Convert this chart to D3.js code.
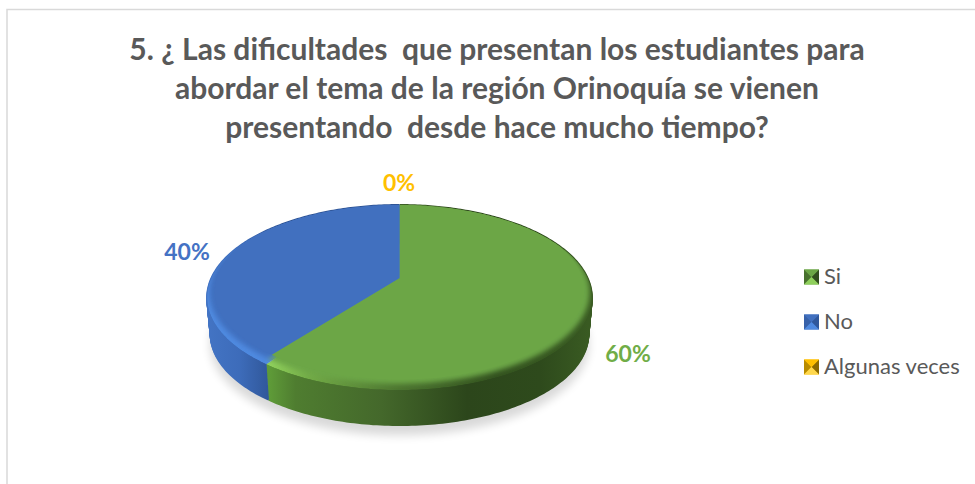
<!DOCTYPE html>
<html>
<head>
<meta charset="utf-8">
<script src="https://cdn.jsdelivr.net/npm/d3@7"></script>
<style>
html, body { margin: 0; padding: 0; background: #fff; }
text { font-family: Lato, "Open Sans", sans-serif; }
</style>
</head>
<body>
<svg id="chart" width="975" height="484"></svg>
<script>
const categories = ["Si", "No", "Algunas veces"];
const values = [60, 40, 0];
const percentLabels = ["60%", "40%", "0%"];
const titleLines = [
    "5. ¿ Las dificultades  que presentan los estudiantes para",
    "abordar el tema de la región Orinoquía se vienen",
    "presentando  desde hace mucho tiempo?"
];

const topColors = ["#6ca646", "#4170bf", "#ffc000"];
const labelColors = ["#70ad47", "#4472c4", "#ffc000"];
const lightColors = ["#8fd05c", "#4f8ae0", "#ffd84d"];
const darkColors = ["#2c451b", "#2f5597", "#7f6000"];

const svg = d3.select("#chart");
const defs = svg.append("defs");

// frame
svg.append("path")
    .attr("d", "M7,484V9.5H975")
    .attr("fill", "none")
    .attr("stroke", "#d9d9d9")
    .attr("stroke-width", 1.5);

// title
svg.append("g").selectAll("text")
    .data(titleLines)
    .enter()
    .append("text")
    .attr("x", 497)
    .attr("y", (d, i) => 60 + i * 39)
    .attr("text-anchor", "middle")
    .attr("font-size", 30)
    .attr("font-weight", 700)
    .attr("fill", "#595959")
    .style("white-space", "pre")
    .text(d => d);

// pie is tilted with a small perspective, so the far half looks shorter than the near half
const cx = 399.5, cy = 278, a = 188, b = 88.4, k = 0.211;
function project(angle, scale, dy) {
    const u = Math.sin(angle), v = Math.cos(angle), w = 1 + k * v;
    return [cx + scale * a * u / w, cy + dy - scale * b * v / w];
}

const pie = d3.pie().value(d => d).sort(null);
const slices = pie(values);
const line = d3.line();

function arcPoints(d, scale, dy) {
    const n = Math.max(2, Math.ceil((d.endAngle - d.startAngle) * 60));
    return d3.range(n + 1).map(i => project(d.startAngle + (d.endAngle - d.startAngle) * i / n, scale, dy));
}

function gradient(id, x1, x2, stops) {
    const g = defs.append("linearGradient").attr("id", id)
        .attr("gradientUnits", "userSpaceOnUse")
        .attr("x1", x1).attr("x2", x2).attr("y1", 0).attr("y2", 0);
    stops.forEach(s => g.append("stop").attr("offset", s[0]).attr("stop-color", s[1]));
}

const blur = defs.append("filter").attr("id", "soft")
    .attr("x", "-10%").attr("y", "-10%").attr("width", "120%").attr("height", "120%");
blur.append("feGaussianBlur").attr("stdDeviation", 2.5);

const shadowBlur = defs.append("filter").attr("id", "shadow")
    .attr("x", "-20%").attr("y", "-20%").attr("width", "140%").attr("height", "140%");
shadowBlur.append("feGaussianBlur").attr("stdDeviation", 5);

const clip = defs.append("clipPath").attr("id", "pieClip");
slices.forEach(d => {
    if (d.value > 0) clip.append("path").attr("d", line([[cx, cy]].concat(arcPoints(d, 1, 0))) + "Z");
});

gradient("wall0", 270, 588, [[0, "#5e9a38"], [0.08, "#4f7d30"], [0.35, "#44682b"], [0.62, "#2c461b"], [0.85, "#2e4a1c"], [1, "#395a22"]]);
gradient("wall1", 207, 272, [[0, "#4374c4"], [0.5, "#3d6cba"], [1, "#2f5597"]]);
gradient("rim0", 270, 592, [[0, "#8fd05c"], [0.12, "#72ab47"], [0.4, "#4c7530"], [0.7, "#33521f"], [1, "#3a5c23"]]);
gradient("rim1", 207, 272, [[0, "#4f8ae0"], [1, "#4f8ae0"]]);

const pieG = svg.append("g");

// ground shadow under the disc
pieG.append("path")
    .attr("d", line(d3.range(121).map(i => project(i / 120 * 2 * Math.PI, 0.985, 47))) + "Z")
    .attr("fill", "#000")
    .attr("opacity", 0.15)
    .attr("filter", "url(#shadow)");

// side wall: stack of rim arcs from the bottom ring up to the top ring
const depth = 37;
slices.forEach((d, i) => {
    if (d.value <= 0) return;
    d3.range(depth, -1, -1).forEach(t => {
        pieG.append("path")
            .attr("d", line(arcPoints(d, 1 - 0.018 * t / depth, t)))
            .attr("fill", "none")
            .attr("stroke", "url(#wall" + i + ")")
            .attr("stroke-width", 2);
    });
});

// bevel colour first, then the flat top with a soft edge over it
const topG = pieG.append("g").attr("clip-path", "url(#pieClip)");
slices.forEach((d, i) => {
    if (d.value <= 0) return;
    topG.append("path")
        .attr("d", line([[cx, cy]].concat(arcPoints(d, 1, 0))) + "Z")
        .attr("fill", "url(#rim" + i + ")");
});
slices.forEach((d, i) => {
    if (d.value <= 0) return;
    topG.append("path")
        .attr("d", line([[cx, cy]].concat(arcPoints(d, 0.988, -5))) + "Z")
        .attr("fill", topColors[i])
        .attr("filter", "url(#soft)");
});
// keep the slice boundary crisp
slices.forEach((d, i) => {
    if (d.value <= 0) return;
    topG.append("path")
        .attr("d", line([[cx, cy]].concat(arcPoints(d, 0.96, -6))) + "Z")
        .attr("fill", topColors[i]);
});

// data labels
const labelPos = [[628, 362], [187, 260], [399, 191]];
svg.append("g").selectAll("text")
    .data(percentLabels)
    .enter()
    .append("text")
    .attr("x", (d, i) => labelPos[i][0])
    .attr("y", (d, i) => labelPos[i][1])
    .attr("text-anchor", "middle")
    .attr("font-size", 23)
    .attr("font-weight", 700)
    .attr("fill", (d, i) => labelColors[i])
    .text(d => d);

// legend with bevelled swatches
const legendY = d3.scalePoint().domain(categories).range([277, 367]);
const legend = svg.append("g").selectAll("g")
    .data(categories)
    .enter()
    .append("g")
    .attr("transform", d => "translate(804," + legendY(d) + ")");

const s = 7.5;
legend.append("rect")
    .attr("y", -s).attr("width", 2 * s).attr("height", 2 * s)
    .attr("fill", (d, i) => topColors[i]);
legend.append("path")
    .attr("d", `M0,${-s}L${s},0L0,${s}Z`)
    .attr("fill", (d, i) => darkColors[i]).attr("opacity", 0.55);
legend.append("path")
    .attr("d", `M${2 * s},${-s}L${s},0L${2 * s},${s}Z`)
    .attr("fill", (d, i) => darkColors[i]).attr("opacity", 0.9);
legend.append("path")
    .attr("d", `M0,${-s}L${s},0L${2 * s},${-s}Z`)
    .attr("fill", (d, i) => topColors[i]);
legend.append("path")
    .attr("d", `M0,${s}L${s},0L${2 * s},${s}Z`)
    .attr("fill", (d, i) => lightColors[i]);
legend.append("text")
    .attr("x", 20)
    .attr("y", 7)
    .attr("font-size", 22)
    .attr("fill", "#595959")
    .text(d => d);
</script>
</body>
</html>
